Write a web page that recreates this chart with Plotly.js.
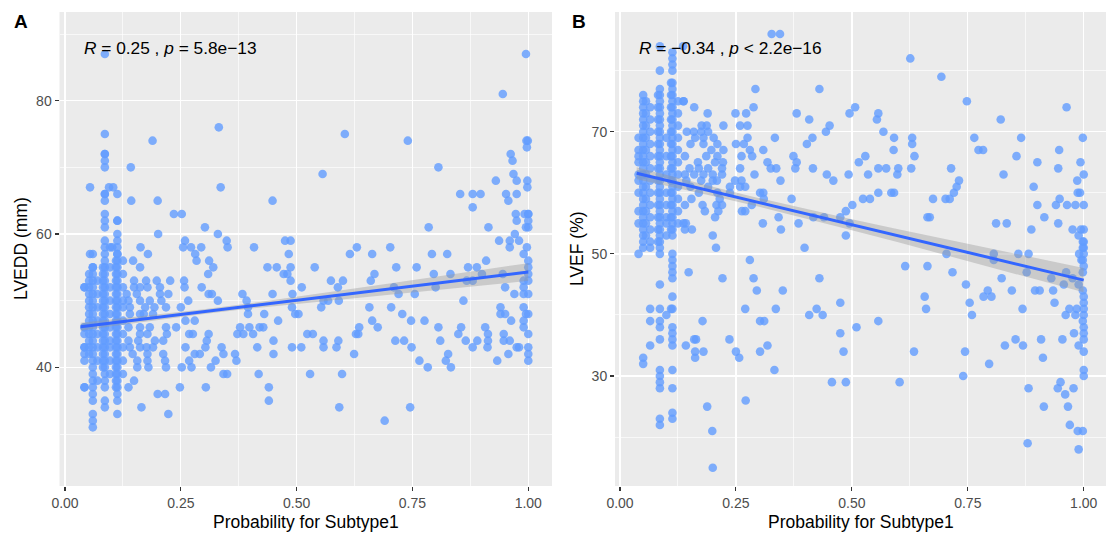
<!DOCTYPE html>
<html>
<head>
<meta charset="utf-8">
<script src="https://cdn.plot.ly/plotly-3.0.1.min.js"></script>
<style>html,body{margin:0;padding:0;background:#fff;}#chart{width:1108px;height:539px;}</style>
</head>
<body>
<div id="chart"></div>
<script>
// ---------------- Panel A data (LVEDD vs probability) ----------------
const lveddLevels = [87,81,76,75,74,73,72,71,70,69,68,67,66,65,64,63,62,61,60,59,58,57,56,55,54,53,52,51,50,49,48,47,46,45,44,43,42,41,40,39,38,37,36,35,34,33,32];
const probRowsA = [
  [0.995],
  [0.945],
  [0.332],
  [0.604],
  [0.189, 0.74, 0.996, 0.999],
  [0.997],
  [0.962],
  [0.966],
  [0.142, 0.806],
  [0.556, 0.968],
  [0.93, 0.975, 0.998],
  [0.054, 0.095, 0.104, 0.336, 0.998],
  [0.853, 0.88, 0.897, 0.952, 0.975],
  [0.143, 0.2, 0.448, 0.957],
  [0.88],
  [0.235, 0.252, 0.973, 0.992, 1.0, 1.0],
  [0.975, 1.0],
  [0.302, 0.785, 0.914, 0.995, 1.0],
  [0.201, 0.33, 0.971],
  [0.259, 0.349, 0.475, 0.487, 0.937, 0.96, 0.98],
  [0.102, 0.163, 0.255, 0.272, 0.294, 0.351, 0.408, 0.63, 0.702, 0.96, 0.997],
  [0.054, 0.179, 0.281, 0.483, 0.615, 0.663, 0.792, 0.825, 0.99],
  [0.147, 0.284, 0.311, 0.909, 1.0],
  [0.162, 0.32, 0.437, 0.457, 0.487, 0.539, 0.715, 0.759, 0.87, 0.889, 1.0],
  [0.309, 0.472, 0.48, 0.668, 0.796, 0.832, 0.9, 0.945, 1.0],
  [0.149, 0.175, 0.198, 0.227, 0.257, 0.487, 0.574, 0.6, 0.66, 0.867, 0.88, 0.99, 1.0],
  [0.149, 0.162, 0.178, 0.205, 0.258, 0.295, 0.511, 0.589, 0.71, 0.8, 0.95, 0.99],
  [0.133, 0.155, 0.205, 0.223, 0.31, 0.317, 0.383, 0.448, 0.491, 0.72, 0.755, 0.97, 0.99, 1.0],
  [0.137, 0.162, 0.183, 0.208, 0.266, 0.33, 0.392, 0.558, 0.568, 0.591, 0.86],
  [0.14, 0.173, 0.193, 0.218, 0.25, 0.395, 0.49, 0.553, 0.657, 0.704, 0.94, 0.99],
  [0.14, 0.162, 0.17, 0.19, 0.395, 0.43, 0.497, 0.504, 0.728, 0.94, 0.95, 0.995, 1.0],
  [0.26, 0.28, 0.46, 0.663, 0.747, 0.776, 0.963, 0.99],
  [0.137, 0.162, 0.183, 0.218, 0.24, 0.378, 0.398, 0.42, 0.428, 0.635, 0.675, 0.806, 0.855, 0.907, 0.99],
  [0.162, 0.178, 0.22, 0.268, 0.276, 0.31, 0.372, 0.385, 0.406, 0.523, 0.535, 0.628, 0.633, 0.849, 0.913, 0.947, 1.0],
  [0.137, 0.158, 0.194, 0.212, 0.306, 0.45, 0.558, 0.59, 0.713, 0.732, 0.81, 0.865, 0.89, 0.913, 0.947, 0.96],
  [0.14, 0.162, 0.176, 0.19, 0.26, 0.303, 0.338, 0.415, 0.49, 0.51, 0.558, 0.586, 0.748, 0.88, 0.912, 0.975, 0.98, 1.0],
  [0.146, 0.178, 0.212, 0.28, 0.291, 0.342, 0.367, 0.45, 0.624, 0.827, 0.957, 1.0],
  [0.156, 0.178, 0.216, 0.268, 0.325, 0.37, 0.765, 0.822, 0.933, 1.0],
  [0.156, 0.18, 0.218, 0.252, 0.273, 0.315, 0.783, 0.833],
  [0.342, 0.35, 0.418, 0.529, 0.598],
  [0.149],
  [0.137, 0.248, 0.304, 0.44],
  [0.2, 0.216],
  [0.44],
  [0.165, 0.592, 0.745],
  [0.223],
  [0.69]
];
// dense columns of panel A (probability value, LVEDD values)
const colProbA = [0.042, 0.052, 0.060, 0.070, 0.082, 0.086, 0.097, 0.110, 0.113, 0.125];
const colLveddA = [
  [52, 52, 46, 46, 45, 43, 43, 42, 41, 37, 37],
  [54, 53, 52, 51, 50, 49, 48, 47, 46, 45, 44, 43, 42],
  [57, 55, 55, 54, 53, 52, 51, 50, 49, 48, 47, 46, 45, 44, 43, 42, 41, 40, 39, 38, 37, 36, 35, 33, 32, 31],
  [53, 51, 49, 47, 45, 43, 41, 38],
  [55, 54, 53, 52, 51, 50, 49, 48, 47, 46, 45, 44, 43, 42, 41, 40],
  [87, 75, 72, 72, 71, 70, 66, 66, 65, 63, 62, 61, 59, 58, 57, 56, 55, 54, 53, 52, 51, 50, 49, 48, 47, 46, 45, 44, 43, 42, 41, 40, 39, 38, 37, 35, 34],
  [58, 55, 52, 50, 48, 46, 44, 43, 41, 39],
  [56, 55, 54, 53, 52, 51, 50, 49, 48, 47, 46, 45, 44, 43, 42, 41, 40, 39, 38, 37],
  [66, 62, 62, 60, 59, 58, 57, 57, 56, 55, 54, 53, 52, 51, 50, 49, 48, 47, 46, 45, 44, 43, 42, 41, 40, 39, 38, 37, 36, 35, 33],
  [56, 54, 52, 50, 49, 47, 45, 43, 41, 39]
];
// fitted line and 95% band
const fitProbA = [0.034, 0.1, 0.2, 0.3, 0.4, 0.5, 0.6, 0.7, 0.8, 0.9, 1.0];
const fitLveddA = [46.1, 46.66, 47.51, 48.36, 49.21, 50.06, 50.9, 51.75, 52.6, 53.45, 54.3];
const lowLveddA = [45.5, 46.15, 47.11, 48.01, 48.81, 49.55, 50.25, 50.94, 51.62, 52.29, 52.97];
const highLveddA = [46.7, 47.17, 47.91, 48.71, 49.61, 50.57, 51.55, 52.56, 53.58, 54.61, 55.63];

// ---------------- Panel B data (LVEF vs probability) ----------------
const lvefLevels = [86,84,82,79,77,75,74,73,72,71,70,69,68,67,66,65,64,63,62,61,60,59,58,57,56,55,54,53,52,51,50,49,48,47,46,45,44,43,42,41,40,39,38,37,36,35,34,33,32,31,30,29,28,27,26,25,22,21,19,18,15];
const probRowsB = [
  [0.327, 0.345],
  [0.136],
  [0.626],
  [0.693],
  [0.292, 0.43],
  [0.137, 0.137, 0.748],
  [0.16, 0.288, 0.507, 0.963],
  [0.189, 0.249, 0.272, 0.381, 0.495, 0.557],
  [0.408, 0.554, 0.821],
  [0.176, 0.187, 0.223, 0.259, 0.275, 0.452],
  [0.144, 0.159, 0.175, 0.19, 0.444, 0.568],
  [0.162, 0.18, 0.202, 0.275, 0.334, 0.415, 0.591, 0.63, 0.764, 0.865, 0.998],
  [0.152, 0.18, 0.21, 0.25, 0.267, 0.403, 0.63],
  [0.197, 0.223, 0.28, 0.309, 0.59, 0.773, 0.783, 0.947],
  [0.14, 0.186, 0.21, 0.262, 0.285, 0.374, 0.529, 0.635, 0.855],
  [0.168, 0.205, 0.222, 0.318, 0.381, 0.515, 0.9, 0.993],
  [0.15, 0.17, 0.19, 0.22, 0.259, 0.325, 0.337, 0.378, 0.416, 0.557, 0.574, 0.6, 0.628, 0.714, 0.945],
  [0.14, 0.16, 0.18, 0.2, 0.22, 0.29, 0.446, 0.493, 0.535, 0.598, 0.827, 1.0],
  [0.143, 0.175, 0.2, 0.209, 0.248, 0.262, 0.346, 0.46, 0.731, 0.986],
  [0.152, 0.19, 0.237, 0.259, 0.27, 0.726, 0.892],
  [0.17, 0.21, 0.237, 0.302, 0.309, 0.557, 0.585, 0.591, 0.72, 0.987, 0.992],
  [0.154, 0.215, 0.31, 0.37, 0.524, 0.539, 0.675, 0.702, 0.711, 0.948],
  [0.14, 0.178, 0.208, 0.22, 0.284, 0.501, 0.9, 0.94, 0.964, 0.982, 1.0],
  [0.183, 0.212, 0.263, 0.27, 0.487],
  [0.205, 0.342, 0.417, 0.44, 0.475, 0.663, 0.668, 0.915],
  [0.137, 0.142, 0.308, 0.385, 0.495, 0.811, 0.834, 0.945],
  [0.14, 0.155, 0.347, 0.887, 0.976, 0.994, 1.0],
  [0.2, 0.487, 0.989],
  [0.998, 1.0],
  [0.207, 0.398, 0.998, 1.0],
  [0.704, 0.806, 0.859, 0.881, 0.99, 1.0],
  [0.28, 0.806, 0.995, 0.998],
  [0.615, 0.663, 1.0],
  [0.148, 0.717, 0.877, 0.962, 0.998],
  [0.221, 0.288, 0.43, 0.823, 0.93, 0.976],
  [0.746, 0.957, 0.989],
  [0.295, 0.351, 0.793, 0.845, 0.895, 0.905, 0.934, 0.998],
  [0.657, 0.784, 0.801, 1.0],
  [0.475, 0.754, 0.937, 1.0],
  [0.27, 0.336, 0.424, 0.66, 0.868, 0.969, 0.985, 1.0],
  [0.408, 0.437, 0.759, 0.961, 0.982, 1.0],
  [0.178, 0.302, 0.311, 0.557, 0.998],
  [0.51, 1.0],
  [0.475, 0.979, 1.0],
  [0.16, 0.164, 0.236, 0.853, 0.908, 0.954, 1.0],
  [0.142, 0.318, 0.83, 0.869, 0.989],
  [0.162, 0.18, 0.25, 0.302, 0.482, 0.634, 0.744, 1.0],
  [0.162, 0.257, 0.912],
  [0.796],
  [0.333, 1.0],
  [0.74, 1.0],
  [0.457, 0.487, 0.603, 0.95],
  [0.881, 0.944, 0.978],
  [0.96],
  [0.271],
  [0.188, 0.914, 0.966],
  [0.97],
  [0.199, 0.987, 0.998],
  [0.879],
  [0.989],
  [0.2]
];
const colProbB = [0.040, 0.050, 0.056, 0.065, 0.082, 0.086, 0.100, 0.110, 0.113, 0.125];
const colLvefB = [
  [69, 67, 66, 65, 63, 62, 60, 57, 55, 50],
  [76, 75, 74, 73, 72, 71, 70, 69, 68, 67, 66, 65, 64, 63, 62, 61, 60, 59, 58, 57, 56, 55, 54, 53, 52, 51, 33, 32],
  [75, 73, 71, 69, 67, 65, 63, 61, 59, 57, 55, 53],
  [74, 72, 70, 68, 66, 64, 62, 60, 58, 56, 54, 52, 51, 41, 39, 35],
  [76, 74, 72, 70, 68, 66, 64, 62, 60, 58, 56, 54, 52],
  [84, 80, 77, 76, 75, 74, 73, 72, 71, 70, 69, 68, 67, 66, 65, 64, 63, 62, 61, 60, 59, 58, 57, 56, 55, 54, 53, 52, 51, 50, 45, 41, 39, 38, 36, 31, 30, 29, 28, 23, 22],
  [69, 66, 63, 60, 58, 56, 55, 53, 40],
  [78, 76, 74, 72, 70, 68, 66, 64, 62, 60, 58, 56, 54, 41],
  [83, 82, 81, 80, 78, 77, 76, 75, 74, 73, 72, 71, 70, 69, 68, 67, 66, 65, 64, 63, 62, 61, 60, 59, 58, 57, 56, 55, 54, 53, 50, 49, 48, 47, 46, 43, 41, 38, 37, 36, 35, 31, 28, 24, 23],
  [75, 73, 71, 69, 67, 65, 63, 61, 59, 57, 55]
];
const fitProbB = [0.036, 0.1, 0.2, 0.3, 0.4, 0.5, 0.6, 0.7, 0.8, 0.9, 1.0];
const fitLvefB = [63.2, 62.04, 60.22, 58.41, 56.59, 54.78, 52.96, 51.15, 49.33, 47.52, 45.7];
const lowLvefB = [62.2, 61.15, 59.46, 57.7, 55.83, 53.89, 51.89, 49.87, 47.82, 45.77, 43.7];
const highLvefB = [64.2, 62.93, 60.98, 59.12, 57.35, 55.67, 54.03, 52.43, 50.84, 49.27, 47.7];

// tick labels
const xTickVals = [0, 0.25, 0.5, 0.75, 1];
const xTickText = ["0.00", "0.25", "0.50", "0.75", "1.00"];
const yTickValsA = [40, 60, 80];
const yTickValsB = [30, 50, 70];

// ---------------- build traces ----------------
function flatten(levels, rows, colX, colY) {
  const xs = [], ys = [];
  levels.forEach((lv, i) => rows[i].forEach(p => { xs.push(p); ys.push(lv); }));
  colX.forEach((p, i) => colY[i].forEach(v => { xs.push(p); ys.push(v); }));
  return {xs, ys};
}
const A = flatten(lveddLevels, probRowsA, colProbA, colLveddA);
const B = flatten(lvefLevels, probRowsB, colProbB, colLvefB);

const ptMarker = {color: '#619CFF', size: 8.6, opacity: 0.8, line: {width: 0}};
function band(xs, lo, hi, xa, ya) {
  return {x: xs.concat(xs.slice().reverse()), y: hi.concat(lo.slice().reverse()),
    type: 'scatter', mode: 'lines', fill: 'toself', fillcolor: 'rgba(153,153,153,0.4)',
    line: {width: 0}, xaxis: xa, yaxis: ya, hoverinfo: 'skip'};
}
const traces = [
  {x: A.xs, y: A.ys, type: 'scatter', mode: 'markers', marker: ptMarker, xaxis: 'x', yaxis: 'y'},
  band(fitProbA, lowLveddA, highLveddA, 'x', 'y'),
  {x: fitProbA, y: fitLveddA, type: 'scatter', mode: 'lines', line: {color: '#3366FF', width: 3}, xaxis: 'x', yaxis: 'y'},
  {x: B.xs, y: B.ys, type: 'scatter', mode: 'markers', marker: ptMarker, xaxis: 'x2', yaxis: 'y2'},
  band(fitProbB, lowLvefB, highLvefB, 'x2', 'y2'),
  {x: fitProbB, y: fitLvefB, type: 'scatter', mode: 'lines', line: {color: '#3366FF', width: 3}, xaxis: 'x2', yaxis: 'y2'}
];

const W = 1108, H = 539;
const FONT = 'Liberation Sans, Arial, Helvetica, sans-serif';
const yDom = [1 - 486 / H, 1 - 12 / H];
function xAxis(dom, range, anchor) {
  return {domain: dom, range: range, anchor: anchor, tickvals: xTickVals, ticktext: xTickText,
    showgrid: true, gridcolor: '#FFFFFF', gridwidth: 1.3, zeroline: false, showline: false,
    ticks: 'outside', ticklen: 4, tickwidth: 1.1, tickcolor: '#333333',
    tickfont: {family: FONT, size: 14, color: '#4D4D4D'},
    minor: {tickvals: [0.125, 0.375, 0.625, 0.875], showgrid: true, gridcolor: '#FFFFFF', gridwidth: 0.65, ticks: ''},
    fixedrange: true};
}
function yAxis(range, ticks, minorTicks, anchor) {
  return {domain: yDom, range: range, anchor: anchor, tickvals: ticks,
    showgrid: true, gridcolor: '#FFFFFF', gridwidth: 1.3, zeroline: false, showline: false,
    ticks: 'outside', ticklen: 4, tickwidth: 1.1, tickcolor: '#333333',
    tickfont: {family: FONT, size: 14, color: '#4D4D4D'},
    minor: {tickvals: minorTicks, showgrid: true, gridcolor: '#FFFFFF', gridwidth: 0.65, ticks: ''},
    fixedrange: true};
}

const layout = {
  width: W, height: H, margin: {l: 0, r: 0, t: 0, b: 0},
  paper_bgcolor: '#FFFFFF', plot_bgcolor: '#EBEBEB', showlegend: false,
  font: {family: FONT},
  xaxis: xAxis([59.5 / W, 552 / W], [-0.0119, 1.0512], 'y'),
  yaxis: yAxis([22.2, 93.3], yTickValsA, [30, 50, 70, 90], 'x'),
  xaxis2: xAxis([615 / W, 1106 / W], [-0.0108, 1.048], 'y2'),
  yaxis2: yAxis([12.0, 89.6], yTickValsB, [20, 40, 60, 80], 'x2'),
  annotations: [
    {text: '<b>A</b>', xref: 'paper', yref: 'paper', x: 21 / W, y: 1 - 21.5 / H, xanchor: 'center', yanchor: 'middle', showarrow: false, font: {family: FONT, size: 19, color: '#000'}},
    {text: '<b>B</b>', xref: 'paper', yref: 'paper', x: 579 / W, y: 1 - 21.5 / H, xanchor: 'center', yanchor: 'middle', showarrow: false, font: {family: FONT, size: 19, color: '#000'}},
    {text: '<i>R</i> = 0.25 , <i>p</i> = 5.8e\u221213', xref: 'x', yref: 'y', x: 0.037, y: 87.9, xanchor: 'left', yanchor: 'middle', showarrow: false, font: {family: FONT, size: 17.3, color: '#000'}},
    {text: '<i>R</i> = \u22120.34 , <i>p</i> < 2.2e\u221216', xref: 'x2', yref: 'y2', x: 0.037, y: 83.7, xanchor: 'left', yanchor: 'middle', showarrow: false, font: {family: FONT, size: 17.3, color: '#000'}},
    {text: 'Probability for Subtype1', xref: 'paper', yref: 'paper', x: 305.75 / W, y: 1 - 522 / H, xanchor: 'center', yanchor: 'middle', showarrow: false, font: {family: FONT, size: 17.5, color: '#000'}},
    {text: 'Probability for Subtype1', xref: 'paper', yref: 'paper', x: 860.5 / W, y: 1 - 522 / H, xanchor: 'center', yanchor: 'middle', showarrow: false, font: {family: FONT, size: 17.5, color: '#000'}},
    {text: 'LVEDD (mm)', xref: 'paper', yref: 'paper', x: 21 / W, y: 1 - 249 / H, xanchor: 'center', yanchor: 'middle', textangle: -90, showarrow: false, font: {family: FONT, size: 17.5, color: '#000'}},
    {text: 'LVEF (%)', xref: 'paper', yref: 'paper', x: 577 / W, y: 1 - 249 / H, xanchor: 'center', yanchor: 'middle', textangle: -90, showarrow: false, font: {family: FONT, size: 17.5, color: '#000'}}
  ]
};

Plotly.newPlot('chart', traces, layout, {displayModeBar: false, staticPlot: true});
</script>
</body>
</html>
